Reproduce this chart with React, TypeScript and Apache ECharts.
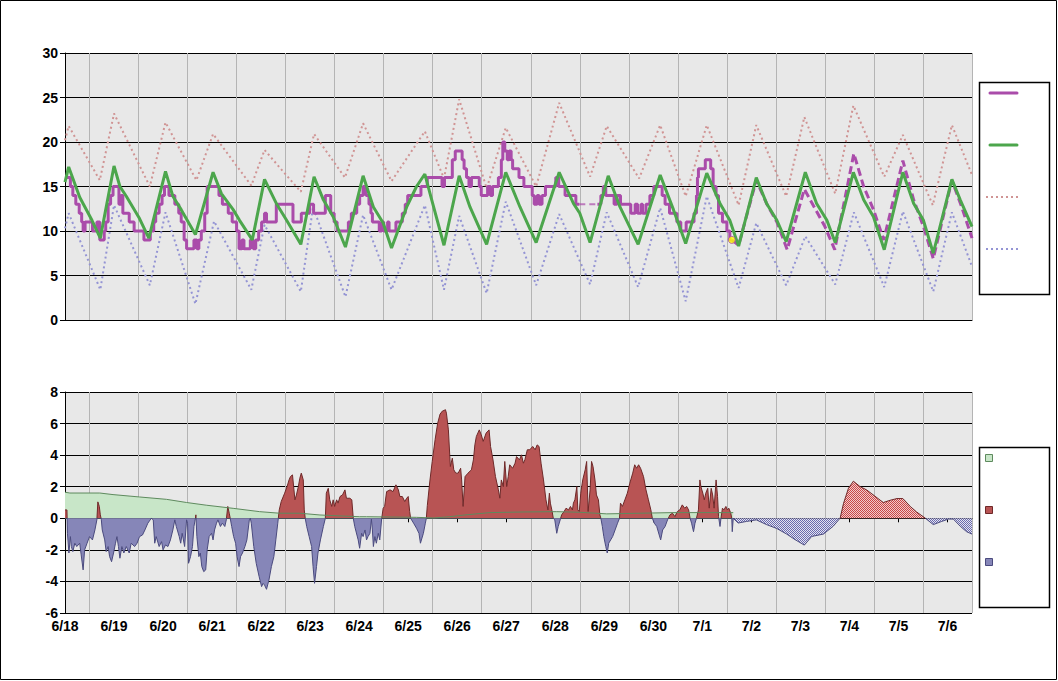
import React, { useEffect, useRef } from 'react';
import * as echarts from 'echarts';

// ---------- tick labels ----------
const dayLabels = ['6/18', '6/19', '6/20', '6/21', '6/22', '6/23', '6/24', '6/25', '6/26', '6/27', '6/28', '6/29', '6/30', '7/1', '7/2', '7/3', '7/4', '7/5', '7/6'];
const daySpan = 18.5; // axis ends at noon of the last day

// ---------- top panel: temperatures [day offset, °C] ----------
const observedTemp: [number, number][] = [
  [0, 16], [0.11, 15], [0.16, 14], [0.22, 13], [0.29, 12], [0.34, 11], [0.37, 10], [0.41, 11], [0.56, 10], [0.65, 11], [0.71, 9], [0.8, 10], [0.83, 11], [0.88, 13], [0.93, 14], [0.98, 15],
  [1.1, 13], [1.14, 14], [1.18, 12], [1.31, 11], [1.41, 10], [1.61, 9], [1.74, 10], [1.81, 11], [1.85, 12], [1.92, 13], [1.98, 14], [2.03, 15],
  [2.12, 14], [2.24, 13], [2.32, 12], [2.37, 11], [2.43, 9], [2.48, 8], [2.63, 9], [2.69, 8], [2.73, 9], [2.78, 10], [2.85, 12], [2.9, 15],
  [3.14, 14], [3.21, 13], [3.33, 12], [3.41, 11], [3.5, 10], [3.55, 8], [3.61, 9], [3.65, 8], [3.78, 9], [3.84, 8], [3.89, 9], [3.95, 10],
  [4.01, 11], [4.07, 12], [4.11, 11], [4.31, 13], [4.65, 11], [4.82, 12], [4.99, 13], [5.07, 12], [5.31, 14], [5.42, 12], [5.49, 11], [5.55, 10],
  [5.78, 11], [5.84, 12], [5.95, 13], [6.01, 14], [6.08, 15], [6.14, 14], [6.2, 13], [6.24, 12], [6.27, 11], [6.41, 10], [6.46, 11], [6.5, 10], [6.58, 11], [6.61, 10],
  [6.75, 11], [6.88, 12], [6.94, 13], [6.99, 14], [7.26, 15], [7.39, 16], [7.69, 15], [7.74, 16], [7.9, 18], [7.96, 19],
  [8.1, 18], [8.14, 17], [8.19, 16], [8.24, 15], [8.29, 16], [8.45, 15], [8.49, 14], [8.62, 15], [8.68, 14], [8.72, 15], [8.84, 16], [8.9, 18], [8.93, 20], [8.97, 19],
  [9.02, 18], [9.06, 19], [9.1, 18], [9.13, 17], [9.26, 16], [9.36, 15], [9.53, 14], [9.57, 13], [9.63, 14], [9.67, 13], [9.73, 14], [9.8, 15],
  [10.01, 16], [10.07, 15], [10.2, 14], [10.42, 13], [10.49, 13], [10.495, null as unknown as number],
  [10.86, 13], [10.93, 14], [10.98, 15], [11.03, 14], [11.2, 13], [11.26, 14], [11.33, 13], [11.54, 12], [11.63, 13], [11.68, 12], [11.75, 13], [11.78, 12], [11.85, 13], [11.93, 14],
  [12.01, 15], [12.18, 14], [12.24, 13], [12.33, 12], [12.48, 11], [12.56, 10], [12.67, 11], [12.83, 12], [12.88, 14], [12.9, 16], [12.92, 17],
  [13.06, 18], [13.17, 17], [13.22, 15], [13.28, 14], [13.33, 12], [13.41, 11], [13.5, 10], [13.56, 9], [13.6, 9]
];
const gapTemp: [number, number][] = [[10.49, 13], [10.86, 13]];
const forecastTemp: [number, number][] = [
  [13.6, 9], [13.74, 8.4], [14.1, 15.7], [14.31, 13.1], [14.52, 11.0], [14.73, 7.9], [15.08, 14.7], [15.3, 12.5], [15.5, 10.5], [15.7, 7.9],
  [16.09, 18.7], [16.29, 15], [16.49, 12.4], [16.7, 9.0], [17.09, 17.9], [17.31, 13.5], [17.51, 10.5], [17.71, 6.9], [18.09, 15.7], [18.29, 12.7], [18.5, 9.2]
];
const lastObs: [number, number][] = [[13.6, 9]];
const normalTemp: [number, number][] = [
  [0, 15.5], [0.075, 17.2], [0.3, 13.8], [0.55, 11.2], [0.72, 9.2], [1.0, 17.3], [1.12, 15.0], [1.25, 13.9], [1.52, 11.4], [1.71, 9.2],
  [2.05, 16.7], [2.2, 13.9], [2.37, 12.4], [2.66, 9.6], [3.02, 16.6], [3.19, 14.2], [3.43, 12.4], [3.56, 11.2], [3.82, 9.0],
  [4.07, 15.8], [4.31, 13.1], [4.52, 11.2], [4.81, 8.5], [5.08, 16.1], [5.27, 13.5], [5.47, 11.6], [5.72, 8.2],
  [6.08, 16.2], [6.29, 12.7], [6.49, 10.9], [6.66, 8.1], [6.97, 12.7], [7.17, 15.0], [7.34, 16.4], [7.48, 13.5], [7.73, 8.4],
  [8.04, 16.2], [8.26, 12.7], [8.6, 8.5], [8.99, 16.6], [9.28, 12.7], [9.61, 8.7], [10.08, 16.6], [10.37, 13.1], [10.5, 12.0], [10.71, 8.7],
  [11.08, 16.2], [11.32, 12.7], [11.69, 8.5], [12.14, 16.3], [12.41, 12.4], [12.66, 8.6], [13.09, 16.5], [13.36, 13.1], [13.56, 11.2], [13.74, 8.3],
  [14.1, 16.0], [14.31, 13.1], [14.52, 11.2], [14.71, 8.8], [15.1, 16.6], [15.33, 13.1], [15.54, 11.2], [15.71, 8.7],
  [16.08, 16.6], [16.29, 13.5], [16.49, 11.6], [16.71, 7.9], [17.09, 16.6], [17.31, 13.1], [17.51, 11.2], [17.71, 7.5],
  [18.09, 15.8], [18.26, 13.5], [18.5, 10.5]
];
const recordHigh: [number, number][] = [
  [0, 20.2], [0.075, 21.8], [0.71, 15.7], [1.0, 23.2], [1.73, 15.0], [2.05, 22.2], [2.68, 15.7], [3.02, 20.9], [3.8, 15.1],
  [4.07, 19.1], [4.81, 14.4], [5.08, 20.9], [5.71, 16.0], [6.08, 22.1], [6.66, 15.6], [7.34, 21.2], [7.73, 15.9],
  [8.04, 24.8], [8.6, 14.8], [8.99, 21.6], [9.61, 15.0], [10.08, 24.4], [10.71, 16.1], [11.05, 21.8], [11.71, 15.9],
  [12.14, 21.9], [12.66, 13.9], [13.09, 21.9], [13.74, 12.9], [14.1, 21.9], [14.71, 13.9], [15.08, 22.8], [15.71, 14.2],
  [16.08, 24.1], [16.71, 16.1], [17.09, 20.8], [17.7, 12.9], [18.09, 21.9], [18.5, 16.3]
];
const recordLow: [number, number][] = [
  [0, 10.3], [0.075, 12.0], [0.72, 3.4], [1.0, 12.9], [1.73, 3.9], [2.05, 12.1], [2.66, 1.8], [3.04, 11.1], [3.8, 3.4],
  [4.07, 10.7], [4.81, 3.2], [5.06, 12.7], [5.72, 2.6], [6.08, 11.8], [6.66, 3.4], [7.34, 12.9], [7.73, 3.4],
  [8.04, 11.7], [8.6, 3.0], [8.99, 13.3], [9.61, 3.9], [10.08, 11.9], [10.71, 4.0], [11.05, 12.1], [11.69, 3.7],
  [12.14, 12.6], [12.66, 2.1], [13.09, 13.9], [13.74, 3.6], [14.1, 10.9], [14.71, 3.9], [15.1, 9.4], [15.71, 4.0],
  [16.09, 12.1], [16.71, 3.7], [17.09, 12.2], [17.71, 3.2], [18.09, 12.1], [18.5, 6.0]
];

// ---------- bottom panel: departures [day offset, °C] ----------
const anomalyBase: [number, number][] = [
  [0, 1.65], [0.1, 1.6], [0.71, 1.6], [0.98, 1.5], [1.52, 1.35], [2.07, 1.2], [2.48, 1.0], [2.88, 0.83], [3.43, 0.63], [3.97, 0.42],
  [4.38, 0.32], [4.79, 0.32], [5.2, 0.21], [5.61, 0.15], [6.01, 0.1], [6.15, 0.1], [7.17, 0.06], [7.52, 0.02], [7.85, 0.1], [8.12, 0.2],
  [8.67, 0.36], [9.35, 0.4], [10.03, 0.42], [10.5, 0.38], [11.05, 0.28], [11.73, 0.32], [12.4, 0.36], [13.63, 0.36]
];
const anomaly: [number, number][] = [
  [0, 0.53], [0.04, 0.53], [0.05, -0.95], [0.08, -2.2], [0.11, -1.16], [0.13, -1.79], [0.16, -2.11], [0.2, -1.58], [0.24, -1.79], [0.3, -1.58], [0.33, -2.32], [0.37, -3.27], [0.4, -2.0], [0.45, -1.58], [0.5, -1.16], [0.56, -1.37], [0.61, -0.74], [0.65, -0.1], [0.67, 1.04], [0.7, 0.75], [0.72, 0.22], [0.74, -0.06], [0.76, -0.74], [0.81, -1.37], [0.84, -2.11], [0.88, -1.79], [0.91, -2.43], [0.95, -2.75], [0.99, -2.2],
  [1.03, -1.58], [1.06, -1.16], [1.09, -1.79], [1.12, -2.53], [1.16, -1.79], [1.2, -2.2], [1.25, -1.79], [1.31, -2.2], [1.35, -1.58], [1.42, -1.79], [1.47, -1.58], [1.52, -1.16], [1.58, -1.06], [1.63, -0.74], [1.69, -0.31], [1.76, 0], [1.8, -0.1], [1.83, -1.58], [1.86, -1.16], [1.92, -1.79], [1.97, -1.48],
  [2.0, -2.0], [2.05, -1.69], [2.1, -1.79], [2.15, -1.37], [2.2, -0.74], [2.24, -0.1], [2.27, -0.52], [2.33, -1.16], [2.36, -1.58], [2.39, -0.95], [2.44, -1.79], [2.48, -0.1], [2.5, -0.31], [2.52, -2.85], [2.56, -2.43], [2.6, -1.79], [2.63, -0.52], [2.66, 0], [2.67, 0.22], [2.69, -1.16], [2.73, -2.43], [2.76, -2.2], [2.79, -3.06], [2.83, -3.38], [2.87, -3.27], [2.9, -2.0], [2.94, -1.16], [2.99, -0.95],
  [3.02, -1.37], [3.05, -0.74], [3.09, -0.31], [3.12, -0.1], [3.17, -0.52], [3.21, -0.31], [3.26, -0.52], [3.29, -0.1], [3.32, 0.75], [3.35, 0.32], [3.37, 0], [3.4, -0.52], [3.44, -1.16], [3.48, -1.58], [3.51, -2.43], [3.55, -3.06], [3.58, -2.43], [3.62, -2.2], [3.67, -1.79], [3.71, -1.37], [3.76, -0.1], [3.78, 0], [3.8, -0.31], [3.85, -1.79], [3.9, -2.85], [3.96, -3.7],
  [4.01, -4.33], [4.04, -4.12], [4.07, -4.23], [4.11, -4.5], [4.16, -3.91], [4.21, -3.06], [4.26, -2.43], [4.3, -1.37], [4.34, -0.31], [4.37, 0.53], [4.41, 1.06], [4.48, 1.59], [4.53, 2.01], [4.57, 2.43], [4.6, 2.65], [4.64, 2.75], [4.67, 1.8], [4.69, 1.17], [4.72, 1.48], [4.76, 2.01], [4.79, 2.54], [4.82, 2.86], [4.86, 2.43], [4.88, 0.53], [4.9, 0], [4.93, -0.52], [4.98, -1.16],
  [5.03, -1.79], [5.06, -3.06], [5.09, -4.12], [5.13, -3.06], [5.16, -2.2], [5.21, -1.37], [5.27, -0.52], [5.31, 0], [5.33, 1.59], [5.37, 1.9], [5.4, 1.17], [5.44, 0.75], [5.47, 1.17], [5.5, 0.75], [5.54, 1.17], [5.57, 0.96], [5.61, 1.38], [5.66, 1.48], [5.71, 1.8], [5.74, 1.27], [5.81, 1.27], [5.85, 1.17], [5.88, 0], [5.91, -0.52], [5.98, -1.37],
  [6.01, -1.9], [6.05, -0.95], [6.08, -1.16], [6.12, -0.74], [6.15, -1.37], [6.18, -1.16], [6.22, -0.95], [6.25, -0.06], [6.27, -0.74], [6.29, -1.79], [6.32, -1.16], [6.35, -1.58], [6.39, -0.95], [6.42, -1.37], [6.46, 0], [6.49, 0.64], [6.52, 0.75], [6.56, 1.69], [6.63, 1.8], [6.69, 1.69], [6.75, 2.12], [6.8, 1.8], [6.83, 1.38], [6.88, 1.38], [6.93, 1.06], [6.97, 1.27],
  [7.0, 1.38], [7.03, 0.43], [7.05, 0], [7.11, -0.31], [7.17, -0.63], [7.22, -0.95], [7.25, -1.58], [7.31, -0.95], [7.35, -0.31], [7.37, 0], [7.39, 0.8], [7.44, 2.3], [7.49, 3.6], [7.55, 5.0], [7.6, 6.0], [7.65, 6.6], [7.7, 6.8], [7.73, 6.83], [7.76, 6.88], [7.78, 6.66], [7.82, 5.6], [7.86, 3.28], [7.9, 3.81], [7.93, 3.07], [7.97, 2.86],
  [8.02, 2.86], [8.07, 3.17], [8.09, 2.43], [8.12, 0.75], [8.16, 2.64], [8.22, 2.86], [8.29, 3.07], [8.33, 3.7], [8.36, 4.65], [8.39, 5.18], [8.45, 5.6], [8.49, 5.29], [8.53, 4.87], [8.59, 5.4], [8.65, 5.6], [8.68, 4.55], [8.73, 3.7], [8.78, 2.64], [8.84, 1.8], [8.87, 1.27], [8.9, 2.43], [8.94, 2.01], [8.97, 3.6],
  [9.01, 2.01], [9.04, 2.64], [9.07, 3.39], [9.13, 3.17], [9.18, 3.49], [9.21, 3.91], [9.27, 3.7], [9.31, 4.02], [9.35, 3.49], [9.38, 3.7], [9.43, 4.34], [9.48, 4.34], [9.54, 4.55], [9.59, 4.34], [9.63, 4.65], [9.67, 4.55], [9.71, 3.49], [9.76, 2.43], [9.81, 1.17], [9.85, 0.53], [9.88, 1.59], [9.9, 0.96], [9.93, 0.53], [9.96, 0], [9.99, -0.1],
  [10.03, -0.95], [10.06, -0.52], [10.1, -0.1], [10.13, 0.22], [10.18, 0.43], [10.22, 0.64], [10.27, 0.53], [10.31, 0.75], [10.35, 0.53], [10.37, 0.96], [10.4, 1.17], [10.44, 2.01], [10.46, 0.53], [10.49, 0.43], [10.52, 1.59], [10.56, 2.43], [10.61, 3.07], [10.64, 3.6], [10.67, 0.43], [10.71, 1.8], [10.74, 3.6], [10.77, 3.28], [10.81, 2.43], [10.84, 1.48], [10.88, 1.17], [10.91, 0.22], [10.93, 0], [10.96, -0.52], [10.99, -1.16],
  [11.03, -1.79], [11.06, -2.2], [11.09, -1.58], [11.13, -1.37], [11.17, -1.16], [11.22, -0.74], [11.27, -0.31], [11.31, 0], [11.33, 0.96], [11.37, 0.75], [11.42, 1.17], [11.47, 1.59], [11.52, 2.22], [11.58, 2.86], [11.62, 3.39], [11.66, 3.17], [11.7, 3.39], [11.74, 3.17], [11.8, 2.64], [11.85, 1.8], [11.9, 1.17], [11.95, 0.53], [11.98, 0],
  [12.02, -0.31], [12.07, -0.52], [12.12, -1.06], [12.15, -1.37], [12.19, -0.74], [12.24, -0.52], [12.29, -0.1], [12.34, 0.22], [12.39, 0.32], [12.44, 0.11], [12.49, 0.43], [12.54, 0.53], [12.59, 0.85], [12.64, 0.64], [12.68, 0.75], [12.72, 0.53], [12.75, 0], [12.78, -0.31], [12.82, -0.85], [12.85, -0.31], [12.88, 0], [12.92, 0.53], [12.95, 2.43], [12.97, 2.01],
  [13.01, 1.59], [13.04, 1.17], [13.07, 1.59], [13.11, 1.9], [13.14, 0.64], [13.18, 1.9], [13.21, 1.48], [13.24, 0.64], [13.28, 2.43], [13.31, 1.38], [13.33, 0.11], [13.36, -0.52], [13.38, 0], [13.41, 0.64], [13.44, 0.53], [13.48, 0.75], [13.51, 0.53], [13.54, 0.64], [13.58, 0.32], [13.6, 0], [13.61, -0.85], [13.63, 0]
];
const forecastBelow1: [number, number][] = [
  [13.63, 0], [13.73, -0.3], [13.9, -0.2], [14.1, -0.1], [14.31, -0.4], [14.52, -0.65], [14.72, -1.0], [14.89, -1.35], [15.08, -1.7], [15.23, -1.15], [15.47, -1.0], [15.67, -0.5], [15.78, -0.1], [15.81, 0]
];
const forecastAbove: [number, number][] = [
  [15.81, 0], [15.88, 0.95], [15.98, 1.9], [16.08, 2.35], [16.22, 2.0], [16.35, 1.8], [16.52, 1.4], [16.69, 1.0], [16.84, 1.15], [16.97, 1.25], [17.09, 1.25], [17.24, 0.75], [17.37, 0.4], [17.55, 0]
];
const forecastBelow2: [number, number][] = [
  [17.55, 0], [17.71, -0.4], [17.88, -0.2], [18.02, -0.05], [18.12, -0.05], [18.26, -0.5], [18.39, -0.85], [18.5, -1.0]
];

const FONT = 'Liberation Sans, Arial, sans-serif';
const PURPLE = '#AA4CAA';
const GREEN = '#4CA64C';
const PINK = '#D09494';
const LAVENDER = '#9494D4';
const RED_FILL = '#B85454';
const BLUE_FILL = '#8686B8';
const RED_EDGE = '#6E2828';
const BLUE_EDGE = '#4A4A7E';
const BASE_FILL = '#C8E6C8';
const BASE_EDGE = '#5E8A5E';

function hatch(c1: string, c2: string) {
  const cv = document.createElement('canvas');
  cv.width = 2;
  cv.height = 2;
  const ctx = cv.getContext('2d')!;
  ctx.fillStyle = c2;
  ctx.fillRect(0, 0, 2, 2);
  ctx.fillStyle = c1;
  ctx.fillRect(0, 0, 1, 1);
  ctx.fillRect(1, 1, 1, 1);
  return { image: cv.toDataURL(), repeat: 'repeat', imageWidth: 2, imageHeight: 2 } as any;
}

export default function App() {
  const ref = useRef<HTMLDivElement>(null);

  useEffect(() => {
    if (!ref.current) return;
    const chart = echarts.init(ref.current, undefined, { renderer: 'svg' });
    const midnights = dayLabels.map((_, i) => i);
    const noons = dayLabels.map((_, i) => i + 0.5);
    const label = { fontFamily: FONT, fontWeight: 'bold' as const, fontSize: 14, color: '#000' };
    const blackLine = { lineStyle: { color: '#000', width: 1 } };
    const graySplit = { show: true, lineStyle: { color: '#B4B4B4', width: 1 } };
    const redHatch = hatch('#C84646', '#F2CACA');
    const blueHatch = hatch('#6A6AAE', '#E4E4F0');

    const topSeries = (s: any) => ({ xAxisIndex: 0, yAxisIndex: 0, symbol: 'none', ...s });
    const botSeries = (s: any) => ({ xAxisIndex: 1, yAxisIndex: 1, symbol: 'none', ...s });

    chart.setOption({
      animation: false,
      backgroundColor: '#fff',
      grid: [
        { left: 65, top: 53, width: 907, height: 267, show: true, backgroundColor: '#E8E8E8', borderWidth: 0 },
        { left: 65, top: 392, width: 907, height: 221, show: true, backgroundColor: '#E8E8E8', borderWidth: 0 }
      ],
      xAxis: [
        {
          gridIndex: 0, type: 'value', min: 0, max: daySpan,
          axisLine: { show: true, ...blackLine }, axisTick: { show: false, customValues: noons },
          axisLabel: { show: false }, splitLine: graySplit
        },
        {
          gridIndex: 1, type: 'value', min: 0, max: daySpan, position: 'bottom',
          axisLine: { show: true, ...blackLine },
          axisTick: { show: true, length: 4, customValues: midnights, lineStyle: { color: '#000' } },
          axisLabel: { ...label, margin: 6, customValues: midnights, formatter: (v: number) => dayLabels[Math.round(v)] ?? '' },
          splitLine: { show: false }
        },
        {
          gridIndex: 1, type: 'value', min: 0, max: daySpan, position: 'top',
          axisLine: { show: false }, axisTick: { show: false, customValues: noons },
          axisLabel: { show: false }, splitLine: graySplit
        }
      ],
      yAxis: [
        {
          gridIndex: 0, type: 'value', min: 0, max: 30, interval: 5,
          axisLine: { show: true, ...blackLine }, axisTick: { show: true, length: 5, lineStyle: { color: '#000' } },
          axisLabel: { ...label, margin: 7 }, splitLine: { show: true, ...blackLine }
        },
        {
          gridIndex: 1, type: 'value', min: -6, max: 8, interval: 2,
          axisLine: { show: true, ...blackLine }, axisTick: { show: true, length: 5, lineStyle: { color: '#000' } },
          axisLabel: { ...label, margin: 7 }, splitLine: { show: true, ...blackLine }
        }
      ],
      visualMap: [
        { type: 'piecewise', show: false, seriesIndex: 8, dimension: 1, pieces: [{ gte: -50, lt: 0, color: BLUE_FILL }, { gte: 0, lte: 50, color: RED_FILL }] },
        { type: 'piecewise', show: false, seriesIndex: 9, dimension: 1, pieces: [{ gte: -50, lt: 0, color: BLUE_EDGE }, { gte: 0, lte: 50, color: RED_EDGE }] }
      ],
      series: [
        topSeries({ name: 'Record high', type: 'line', data: recordHigh, z: 2, lineStyle: { color: PINK, width: 2, type: [2, 3] } }),
        topSeries({ name: 'Record low', type: 'line', data: recordLow, z: 2, lineStyle: { color: LAVENDER, width: 2, type: [2, 3] } }),
        topSeries({ name: 'Observed', type: 'line', step: 'end', data: observedTemp, z: 3, connectNulls: false, lineStyle: { color: PURPLE, width: 3 } }),
        topSeries({ name: 'Gap', type: 'line', data: gapTemp, z: 3, lineStyle: { color: PURPLE, width: 2, type: [6, 4], opacity: 0.7 } }),
        topSeries({ name: 'Forecast', type: 'line', data: forecastTemp, z: 3, lineStyle: { color: PURPLE, width: 3, type: [8, 4] } }),
        topSeries({ name: 'Normal', type: 'line', data: normalTemp, z: 4, lineStyle: { color: GREEN, width: 3 } }),
        topSeries({ name: 'Latest', type: 'scatter', data: lastObs, z: 6, symbol: 'circle', symbolSize: 7, itemStyle: { color: '#FFFF00', borderColor: PURPLE, borderWidth: 1 } }),
        botSeries({ name: 'Base fill', type: 'line', data: anomalyBase, z: 1, lineStyle: { width: 0 }, areaStyle: { color: BASE_FILL, opacity: 1 } }),
        botSeries({ name: 'Departure fill', type: 'line', data: anomaly, z: 2, lineStyle: { width: 0 }, areaStyle: { opacity: 1 } }),
        botSeries({ name: 'Departure edge', type: 'line', data: anomaly, z: 3, lineStyle: { width: 1 } }),
        botSeries({ name: 'Forecast below 1', type: 'line', data: forecastBelow1, z: 2, lineStyle: { color: BLUE_EDGE, width: 1 }, areaStyle: { color: blueHatch, opacity: 1 } }),
        botSeries({ name: 'Forecast below 2', type: 'line', data: forecastBelow2, z: 2, lineStyle: { color: BLUE_EDGE, width: 1 }, areaStyle: { color: blueHatch, opacity: 1 } }),
        botSeries({ name: 'Forecast above', type: 'line', data: forecastAbove, z: 2, lineStyle: { color: RED_EDGE, width: 1 }, areaStyle: { color: redHatch, opacity: 1 } }),
        botSeries({ name: 'Base line', type: 'line', data: anomalyBase, z: 5, lineStyle: { color: BASE_EDGE, width: 1 } })
      ],
      graphic: [
        { type: 'rect', silent: true, z: 0, shape: { x: 0.5, y: 0.5, width: 1056, height: 679 }, style: { fill: 'transparent', stroke: '#000', lineWidth: 1 } },
        { type: 'rect', silent: true, shape: { x: 979.5, y: 82.5, width: 70, height: 212 }, style: { fill: '#fff', stroke: '#000', lineWidth: 1.5 } },
        { type: 'line', silent: true, shape: { x1: 990, y1: 93, x2: 1017, y2: 93 }, style: { stroke: PURPLE, lineWidth: 3, lineCap: 'round' } },
        { type: 'line', silent: true, shape: { x1: 990, y1: 145, x2: 1017, y2: 145 }, style: { stroke: GREEN, lineWidth: 3, lineCap: 'round' } },
        { type: 'line', silent: true, shape: { x1: 986, y1: 197, x2: 1018, y2: 197 }, style: { stroke: PINK, lineWidth: 2, lineDash: [2, 3] } },
        { type: 'line', silent: true, shape: { x1: 986, y1: 249, x2: 1018, y2: 249 }, style: { stroke: LAVENDER, lineWidth: 2, lineDash: [2, 3] } },
        { type: 'rect', silent: true, shape: { x: 979.5, y: 447.5, width: 70, height: 160 }, style: { fill: '#fff', stroke: '#000', lineWidth: 1.5 } },
        { type: 'rect', silent: true, shape: { x: 985.5, y: 454.5, width: 7, height: 7 }, style: { fill: BASE_FILL, stroke: BASE_EDGE, lineWidth: 1 } },
        { type: 'rect', silent: true, shape: { x: 985.5, y: 506.5, width: 7, height: 7 }, style: { fill: RED_FILL, stroke: RED_EDGE, lineWidth: 1 } },
        { type: 'rect', silent: true, shape: { x: 985.5, y: 558.5, width: 7, height: 7 }, style: { fill: BLUE_FILL, stroke: BLUE_EDGE, lineWidth: 1 } }
      ]
    });

    return () => chart.dispose();
  }, []);

  return <div ref={ref} style={{ position: 'absolute', left: 0, top: 0, width: 1058, height: 681 }} />;
}
